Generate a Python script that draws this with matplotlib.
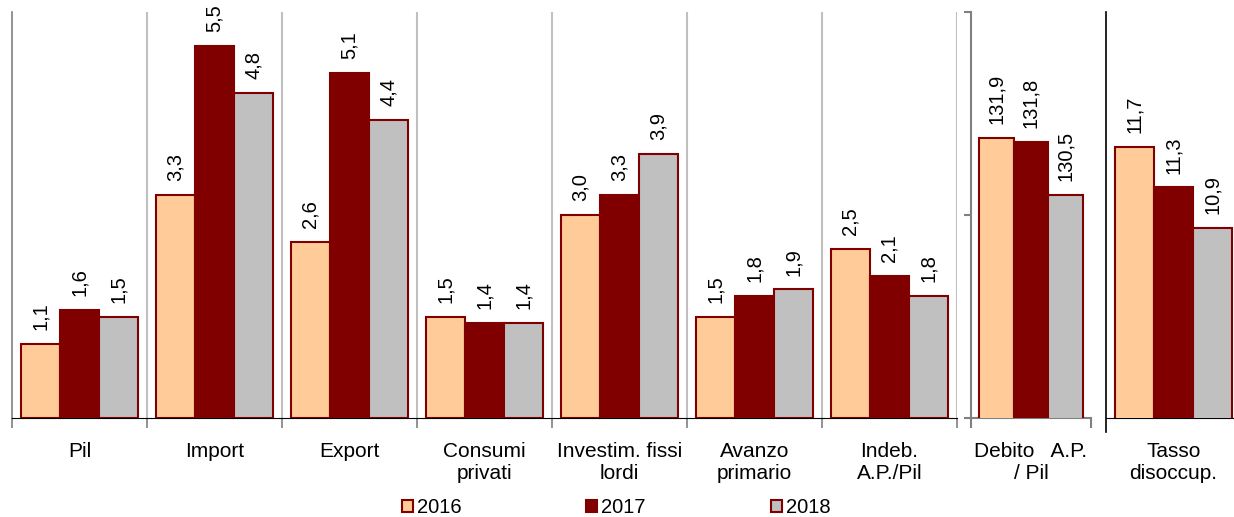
import numpy as np
import matplotlib
matplotlib.use("Agg")
import matplotlib.pyplot as plt
from matplotlib.patches import Patch

plt.rcParams['font.family'] = ['Liberation Sans', 'DejaVu Sans']

# dati
anni = ['2016', '2017', '2018']
categorie = ['Pil', 'Import', 'Export', 'Consumi\nprivati', 'Investim. fissi\nlordi',
             'Avanzo\nprimario', 'Indeb.\nA.P./Pil']
v2016 = [1.1, 3.3, 2.6, 1.5, 3.0, 1.5, 2.5]
v2017 = [1.6, 5.5, 5.1, 1.4, 3.3, 1.8, 2.1]
v2018 = [1.5, 4.8, 4.4, 1.4, 3.9, 1.9, 1.8]

debito_label = 'Debito   A.P.\n/ Pil'
debito = [131.9, 131.8, 130.5]

tasso_label = 'Tasso\ndisoccup.'
tasso = [11.7, 11.3, 10.9]

colori = ['#FFCC99', '#800000', '#C0C0C0']
bordo = '#800000'
W, H = 1234, 517

fig = plt.figure(figsize=(W / 100, H / 100), dpi=100)


def box(x0, x1, y0=12, y1=418):
    return [x0 / W, (H - y1) / H, (x1 - x0) / W, (y1 - y0) / H]


def barre(ax, x, serie, w=0.29):
    for i, s in enumerate(serie):
        bars = ax.bar(np.asarray(x) + (i - 1) * w, s, w, color=colori[i],
                      edgecolor=bordo, linewidth=1.5, zorder=3)
        ax.bar_label(bars, labels=[f"{v:.1f}".replace('.', ',') for v in s],
                     rotation=90, padding=10, fontsize=14.5)


# pannello 1
ax1 = fig.add_axes(box(12, 957))
x = np.arange(len(categorie))
barre(ax1, x, [v2016, v2017, v2018])
ax1.set_xlim(-0.5, len(categorie) - 0.5)
ax1.set_ylim(0, 6)
for k in range(1, len(categorie) + 1):
    ax1.axvline(k - 0.5, color='#C0C0C0', lw=1.5, zorder=1)
for s in ['top', 'right']:
    ax1.spines[s].set_visible(False)
ax1.spines['left'].set_color('#808080')
ax1.spines['left'].set_linewidth(1.2)
ax1.spines['bottom'].set_color('black')
ax1.set_yticks([])
ax1.set_xticks(np.arange(len(categorie) + 1) - 0.5)
ax1.set_xticklabels([])
ax1.tick_params(axis='x', which='major', length=7, color='#808080', width=1.2)
ax1.set_xticks(x, categorie, minor=True)
ax1.tick_params(axis='x', which='minor', length=0, pad=17, labelsize=15)

# pannello 2
ax2 = fig.add_axes(box(971, 1091))
barre(ax2, [0], [[v] for v in debito])
ax2.set_xlim(-0.5, 0.5)
ax2.set_ylim(125, 135)
for s in ['top', 'right']:
    ax2.spines[s].set_visible(False)
for s in ['left', 'bottom']:
    ax2.spines[s].set_color('#808080')
    ax2.spines[s].set_linewidth(1.5)
ax2.set_yticks([125, 130, 135])
ax2.set_yticklabels([])
ax2.tick_params(axis='y', length=5, color='#808080', width=1.5)
ax2.set_xticks([-0.5, 0.5])
ax2.set_xticklabels([])
ax2.tick_params(axis='x', which='major', length=7, color='#808080', width=1.5)
ax2.set_xticks([0], [debito_label], minor=True)
ax2.tick_params(axis='x', which='minor', length=0, pad=17, labelsize=15)

# pannello 3
ax3 = fig.add_axes(box(1106, 1241))
barre(ax3, [0], [[v] for v in tasso])
ax3.set_xlim(-0.5, 0.5)
ax3.set_ylim(9, 13.05)
for s in ['top', 'right', 'left']:
    ax3.spines[s].set_visible(False)
ax3.spines['bottom'].set_color('black')
ax3.plot([0, 0], [-0.035, 1], transform=ax3.transAxes, color='black', lw=1.2,
         clip_on=False)
ax3.set_yticks([])
ax3.set_xticks([0], [tasso_label])
ax3.tick_params(axis='x', length=0, pad=17, labelsize=15)

# legenda
maniglie = [Patch(facecolor=c, edgecolor=bordo, linewidth=1.5) for c in colori]
fig.legend(maniglie, anni, loc='lower center', bbox_to_anchor=(616 / W, 0.0),
           ncol=3, frameon=False, fontsize=14.5, handlelength=0.55, handleheight=0.55,
           handletextpad=0.2, columnspacing=6.2, borderpad=0, borderaxespad=0)

fig.savefig('out.png', dpi=100)
